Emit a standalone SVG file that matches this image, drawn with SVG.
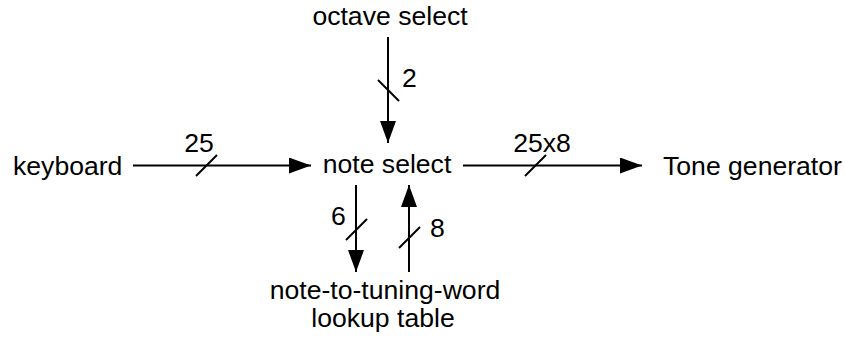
<svg xmlns="http://www.w3.org/2000/svg" width="845" height="338" viewBox="0 0 845 338">
<style>
text{font-family:"Liberation Sans",Arial,sans-serif;font-size:26.6px;fill:#000}
.c line{stroke:#000;stroke-width:2}
</style>
<defs>
<marker id="ah" markerUnits="userSpaceOnUse" markerWidth="24" markerHeight="18" refX="22" refY="8" orient="auto">
<path d="M0,0 L22,8 L0,16 Z" fill="#000"/>
</marker>
</defs>
<rect width="845" height="338" fill="#fff"/>
<g id="keyboard"><text x="13" y="175">keyboard</text></g>
<g id="octave"><text x="390" y="25" text-anchor="middle">octave select</text></g>
<g id="note"><text x="387" y="173" text-anchor="middle">note select</text></g>
<g id="tone"><text x="663" y="175">Tone generator</text></g>
<g id="lookup"><text x="385" y="299" text-anchor="middle">note-to-tuning-word</text><text x="383" y="327" text-anchor="middle">lookup table</text></g>
<g id="connectors" class="c">
<line x1="133" y1="165.5" x2="311" y2="165.5" marker-end="url(#ah)"/>
<line x1="196" y1="176" x2="217" y2="155"/>
<text x="199" y="152" text-anchor="middle">25</text>
<line x1="388" y1="37" x2="388" y2="143" marker-end="url(#ah)"/>
<line x1="378" y1="80" x2="399" y2="101"/>
<text x="402" y="87">2</text>
<line x1="463" y1="165.5" x2="642" y2="165.5" marker-end="url(#ah)"/>
<line x1="525" y1="176" x2="546" y2="155"/>
<text x="542" y="152" text-anchor="middle">25x8</text>
<line x1="356" y1="185" x2="356" y2="272" marker-end="url(#ah)"/>
<line x1="346" y1="240" x2="367" y2="219"/>
<text x="331" y="225">6</text>
<line x1="409" y1="272" x2="409" y2="185" marker-end="url(#ah)"/>
<line x1="399" y1="248" x2="420" y2="227"/>
<text x="430" y="237">8</text>
</g>
</svg>
